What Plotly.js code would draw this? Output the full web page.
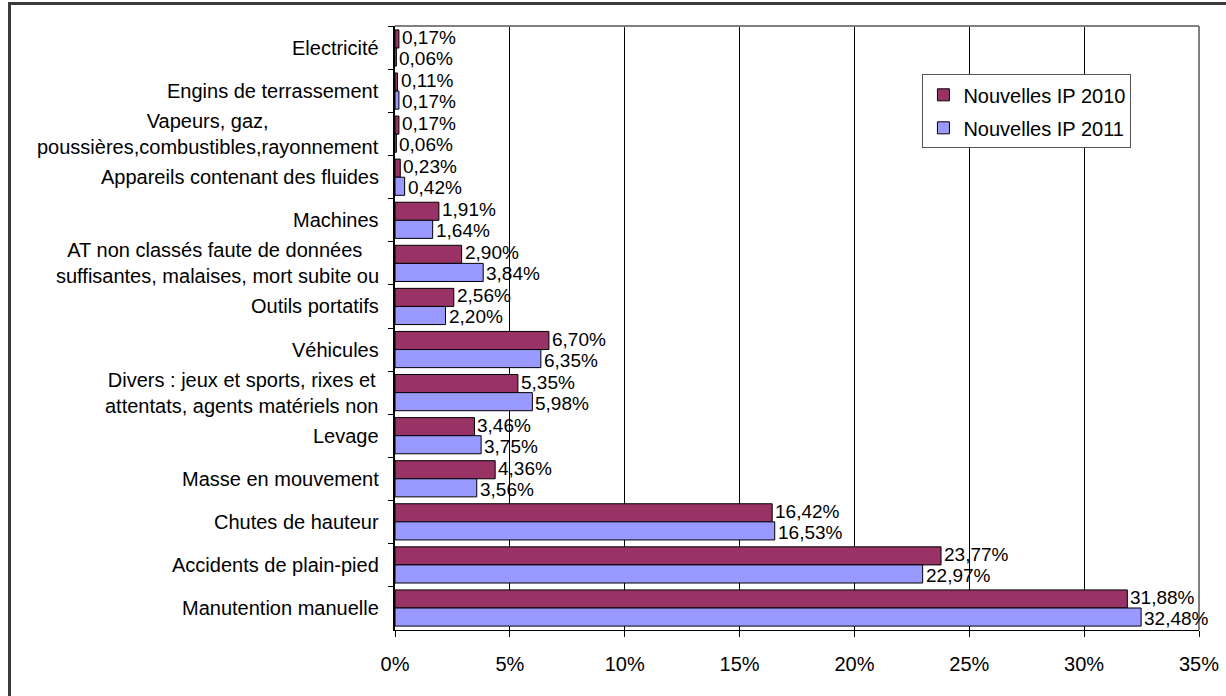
<!DOCTYPE html>
<html>
<head>
<meta charset="utf-8">
<script src="https://cdn.plot.ly/plotly-3.0.1.min.js"></script>
<style>
  html, body { margin: 0; padding: 0; background: #fff; }
  #chart { width: 1226px; height: 696px; }
  #frame { position: absolute; left: 8px; top: 2px; width: 1300px; height: 800px;
           border-left: 3px solid #3a3a3a; border-top: 3px solid #3a3a3a; pointer-events: none; }
</style>
</head>
<body>
<div id="chart"></div>
<div id="frame"></div>
<script>
// categories, top to bottom
const categories = [
  "Electricité",
  "Engins de terrassement",
  "Vapeurs, gaz,<br>poussières,combustibles,rayonnement",
  "Appareils contenant des fluides",
  "Machines",
  "AT non classés faute de données <br>suffisantes, malaises, mort subite ou",
  "Outils portatifs",
  "Véhicules",
  "Divers : jeux et sports, rixes et<br>attentats, agents matériels non",
  "Levage",
  "Masse en mouvement",
  "Chutes de hauteur",
  "Accidents de plain-pied",
  "Manutention manuelle"
];
const series2010Name = "Nouvelles IP 2010";
const series2011Name = "Nouvelles IP 2011";
const values2010 = [0.17, 0.11, 0.17, 0.23, 1.91, 2.90, 2.56, 6.70, 5.35, 3.46, 4.36, 16.42, 23.77, 31.88];
const values2011 = [0.06, 0.17, 0.06, 0.42, 1.64, 3.84, 2.20, 6.35, 5.98, 3.75, 3.56, 16.53, 22.97, 32.48];
const xTickValues = [0, 5, 10, 15, 20, 25, 30, 35];
const xTickLabels = ["0%", "5%", "10%", "15%", "20%", "25%", "30%", "35%"];

const fmt = v => v.toFixed(2).replace('.', ',') + '%';
const font = 'Liberation Sans, Arial, sans-serif';
const FS = 20;
const LFS = 19;

const common = { type: 'bar', orientation: 'h', y: categories, hoverinfo: 'none' };
const traces = [
  Object.assign({}, common, {
    name: series2010Name, x: values2010,
    marker: { color: '#993366', line: { color: '#000', width: 1 } },
    legendgroup: 'a'
  }),
  Object.assign({}, common, {
    name: series2011Name, x: values2011,
    marker: { color: '#9999FF', line: { color: '#000', width: 1 } },
    legendgroup: 'b'
  })
];

const annotations = categories.map(c => ({
  xref: 'paper', yref: 'y', x: 0, y: c, xanchor: 'right', yanchor: 'middle',
  xshift: -14, text: c, align: 'center', showarrow: false,
  font: { family: font, size: FS, color: '#000' }
}));
function addLabels(vals, shift) {
  vals.forEach((v, i) => annotations.push({
    xref: 'x', yref: 'y', x: v, y: categories[i], xanchor: 'left', yanchor: 'middle',
    xshift: 2, yshift: shift, text: fmt(v), showarrow: false, borderpad: 0,
    font: { family: font, size: LFS, color: '#000' }
  }));
}
addLabels(values2010, 10.5);
addLabels(values2011, -10.5);

const layout = {
  width: 1226, height: 696,
  margin: { l: 395, r: 27, t: 26, b: 66 },
  paper_bgcolor: '#fff', plot_bgcolor: '#fff',
  barmode: 'group', bargap: 0.16, bargroupgap: 0,
  showlegend: true,
  legend: {
    x: 0.656, y: 0.92, xanchor: 'left', yanchor: 'top',
    bordercolor: '#555', borderwidth: 1, bgcolor: '#fff',
    font: { family: font, size: FS, color: '#000' },
    traceorder: 'grouped', tracegroupgap: 4, itemwidth: 30
  },
  xaxis: {
    range: [0, 35], tickvals: xTickValues, ticktext: xTickLabels,
    showgrid: true, gridcolor: '#000', gridwidth: 1,
    showline: true, linecolor: '#000', linewidth: 1,
    ticks: 'outside', ticklen: 6, tickcolor: '#000', ticklabelstandoff: 10,
    tickfont: { family: font, size: FS, color: '#000' },
    zeroline: false, fixedrange: true
  },
  yaxis: {
    type: 'category', autorange: 'reversed',
    showticklabels: false, showgrid: false,
    showline: true, linecolor: '#000', linewidth: 2,
    ticks: 'outside', tickson: 'boundaries', ticklen: 5, tickcolor: '#000',
    zeroline: false, fixedrange: true
  },
  shapes: [
    { type: 'line', xref: 'paper', yref: 'paper', x0: 0, x1: 1, y0: 1, y1: 1, line: { color: '#808080', width: 2 }, layer: 'above' },
    { type: 'line', xref: 'paper', yref: 'paper', x0: 1, x1: 1, y0: 0, y1: 1, line: { color: '#808080', width: 2 }, layer: 'above' }
  ],
  annotations: annotations
};

Plotly.newPlot('chart', traces, layout, { displayModeBar: false, staticPlot: true });
</script>
</body>
</html>
